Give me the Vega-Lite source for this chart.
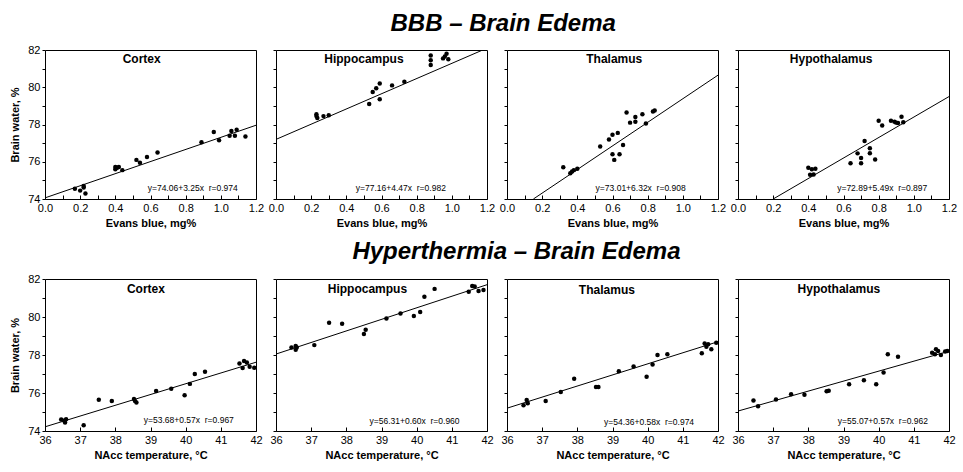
{
  "$schema": "https://vega.github.io/schema/vega-lite/v6.json",
  "padding": {"left": 9, "top": 11, "right": 5, "bottom": 5},
  "background": "white",
  "config": {
    "font": "Liberation Sans",
    "view": {"stroke": "black", "strokeWidth": 1},
    "axis": {"grid": false, "domain": false, "tickColor": "black", "tickSize": 3, "tickCount": 40, "labelColor": "black", "titleColor": "black", "labelFont": "Liberation Sans", "titleFont": "Liberation Sans", "labelFontSize": 11, "titleFontSize": 11, "titleFontWeight": "bold", "labelPadding": 2, "labelOverlap": false, "labelFlush": false},
    "axisY": {"titlePadding": 7},
    "axisX": {"titlePadding": 4, "tickSize": -4, "labelPadding": 7}
  },
  "datasets": {
    "pts": [
      {"e":"BBB","r":"Cortex","x":0.17,"y":74.55},{"e":"BBB","r":"Cortex","x":0.20,"y":74.45},{"e":"BBB","r":"Cortex","x":0.22,"y":74.62},{"e":"BBB","r":"Cortex","x":0.22,"y":74.7},{"e":"BBB","r":"Cortex","x":0.23,"y":74.3},{"e":"BBB","r":"Cortex","x":0.40,"y":75.72},{"e":"BBB","r":"Cortex","x":0.40,"y":75.6},{"e":"BBB","r":"Cortex","x":0.41,"y":75.68},{"e":"BBB","r":"Cortex","x":0.42,"y":75.72},{"e":"BBB","r":"Cortex","x":0.44,"y":75.55},{"e":"BBB","r":"Cortex","x":0.52,"y":76.1},{"e":"BBB","r":"Cortex","x":0.54,"y":75.95},{"e":"BBB","r":"Cortex","x":0.58,"y":76.25},{"e":"BBB","r":"Cortex","x":0.64,"y":76.5},{"e":"BBB","r":"Cortex","x":0.89,"y":77.05},{"e":"BBB","r":"Cortex","x":0.96,"y":77.6},{"e":"BBB","r":"Cortex","x":0.99,"y":77.15},{"e":"BBB","r":"Cortex","x":1.05,"y":77.4},{"e":"BBB","r":"Cortex","x":1.06,"y":77.65},{"e":"BBB","r":"Cortex","x":1.08,"y":77.4},{"e":"BBB","r":"Cortex","x":1.09,"y":77.72},{"e":"BBB","r":"Cortex","x":1.14,"y":77.35},
      {"e":"BBB","r":"Hippocampus","x":0.23,"y":78.45},{"e":"BBB","r":"Hippocampus","x":0.23,"y":78.55},{"e":"BBB","r":"Hippocampus","x":0.235,"y":78.35},{"e":"BBB","r":"Hippocampus","x":0.27,"y":78.45},{"e":"BBB","r":"Hippocampus","x":0.30,"y":78.5},{"e":"BBB","r":"Hippocampus","x":0.53,"y":79.1},{"e":"BBB","r":"Hippocampus","x":0.55,"y":79.75},{"e":"BBB","r":"Hippocampus","x":0.57,"y":79.95},{"e":"BBB","r":"Hippocampus","x":0.59,"y":80.2},{"e":"BBB","r":"Hippocampus","x":0.59,"y":79.35},{"e":"BBB","r":"Hippocampus","x":0.66,"y":80.1},{"e":"BBB","r":"Hippocampus","x":0.73,"y":80.3},{"e":"BBB","r":"Hippocampus","x":0.88,"y":81.2},{"e":"BBB","r":"Hippocampus","x":0.88,"y":81.45},{"e":"BBB","r":"Hippocampus","x":0.88,"y":81.7},{"e":"BBB","r":"Hippocampus","x":0.95,"y":81.55},{"e":"BBB","r":"Hippocampus","x":0.96,"y":81.65},{"e":"BBB","r":"Hippocampus","x":0.97,"y":81.8},{"e":"BBB","r":"Hippocampus","x":0.98,"y":81.5},
      {"e":"BBB","r":"Thalamus","x":0.32,"y":75.7},{"e":"BBB","r":"Thalamus","x":0.36,"y":75.38},{"e":"BBB","r":"Thalamus","x":0.37,"y":75.48},{"e":"BBB","r":"Thalamus","x":0.38,"y":75.55},{"e":"BBB","r":"Thalamus","x":0.40,"y":75.62},{"e":"BBB","r":"Thalamus","x":0.53,"y":76.82},{"e":"BBB","r":"Thalamus","x":0.58,"y":77.2},{"e":"BBB","r":"Thalamus","x":0.60,"y":77.45},{"e":"BBB","r":"Thalamus","x":0.60,"y":76.4},{"e":"BBB","r":"Thalamus","x":0.61,"y":76.1},{"e":"BBB","r":"Thalamus","x":0.63,"y":77.55},{"e":"BBB","r":"Thalamus","x":0.64,"y":76.4},{"e":"BBB","r":"Thalamus","x":0.66,"y":76.9},{"e":"BBB","r":"Thalamus","x":0.68,"y":78.65},{"e":"BBB","r":"Thalamus","x":0.70,"y":78.1},{"e":"BBB","r":"Thalamus","x":0.73,"y":78.4},{"e":"BBB","r":"Thalamus","x":0.73,"y":78.15},{"e":"BBB","r":"Thalamus","x":0.77,"y":78.55},{"e":"BBB","r":"Thalamus","x":0.79,"y":78.05},{"e":"BBB","r":"Thalamus","x":0.83,"y":78.7},{"e":"BBB","r":"Thalamus","x":0.84,"y":78.75},
      {"e":"BBB","r":"Hypothalamus","x":0.40,"y":75.68},{"e":"BBB","r":"Hypothalamus","x":0.41,"y":75.3},{"e":"BBB","r":"Hypothalamus","x":0.42,"y":75.6},{"e":"BBB","r":"Hypothalamus","x":0.43,"y":75.32},{"e":"BBB","r":"Hypothalamus","x":0.44,"y":75.62},{"e":"BBB","r":"Hypothalamus","x":0.64,"y":75.92},{"e":"BBB","r":"Hypothalamus","x":0.68,"y":76.45},{"e":"BBB","r":"Hypothalamus","x":0.70,"y":76.2},{"e":"BBB","r":"Hypothalamus","x":0.70,"y":75.92},{"e":"BBB","r":"Hypothalamus","x":0.72,"y":77.12},{"e":"BBB","r":"Hypothalamus","x":0.75,"y":76.72},{"e":"BBB","r":"Hypothalamus","x":0.75,"y":76.46},{"e":"BBB","r":"Hypothalamus","x":0.78,"y":76.12},{"e":"BBB","r":"Hypothalamus","x":0.80,"y":78.2},{"e":"BBB","r":"Hypothalamus","x":0.82,"y":77.95},{"e":"BBB","r":"Hypothalamus","x":0.87,"y":78.2},{"e":"BBB","r":"Hypothalamus","x":0.89,"y":78.15},{"e":"BBB","r":"Hypothalamus","x":0.90,"y":78.1},{"e":"BBB","r":"Hypothalamus","x":0.91,"y":78.08},{"e":"BBB","r":"Hypothalamus","x":0.93,"y":78.42},{"e":"BBB","r":"Hypothalamus","x":0.94,"y":78.12},
      {"e":"HT","r":"Cortex","x":36.46,"y":74.6},{"e":"HT","r":"Cortex","x":36.55,"y":74.55},{"e":"HT","r":"Cortex","x":36.57,"y":74.45},{"e":"HT","r":"Cortex","x":36.6,"y":74.62},{"e":"HT","r":"Cortex","x":37.1,"y":74.3},{"e":"HT","r":"Cortex","x":37.53,"y":75.65},{"e":"HT","r":"Cortex","x":37.9,"y":75.58},{"e":"HT","r":"Cortex","x":38.53,"y":75.68},{"e":"HT","r":"Cortex","x":38.56,"y":75.58},{"e":"HT","r":"Cortex","x":38.6,"y":75.5},{"e":"HT","r":"Cortex","x":39.16,"y":76.1},{"e":"HT","r":"Cortex","x":39.59,"y":76.22},{"e":"HT","r":"Cortex","x":39.97,"y":75.88},{"e":"HT","r":"Cortex","x":40.12,"y":76.48},{"e":"HT","r":"Cortex","x":40.26,"y":77.0},{"e":"HT","r":"Cortex","x":40.55,"y":77.12},{"e":"HT","r":"Cortex","x":41.53,"y":77.55},{"e":"HT","r":"Cortex","x":41.62,"y":77.32},{"e":"HT","r":"Cortex","x":41.66,"y":77.68},{"e":"HT","r":"Cortex","x":41.74,"y":77.6},{"e":"HT","r":"Cortex","x":41.82,"y":77.38},{"e":"HT","r":"Cortex","x":41.95,"y":77.33},
      {"e":"HT","r":"Hippocampus","x":36.44,"y":78.4},{"e":"HT","r":"Hippocampus","x":36.56,"y":78.47},{"e":"HT","r":"Hippocampus","x":36.56,"y":78.27},{"e":"HT","r":"Hippocampus","x":36.59,"y":78.4},{"e":"HT","r":"Hippocampus","x":37.09,"y":78.52},{"e":"HT","r":"Hippocampus","x":37.51,"y":79.7},{"e":"HT","r":"Hippocampus","x":37.88,"y":79.65},{"e":"HT","r":"Hippocampus","x":38.5,"y":79.1},{"e":"HT","r":"Hippocampus","x":38.55,"y":79.33},{"e":"HT","r":"Hippocampus","x":39.14,"y":79.92},{"e":"HT","r":"Hippocampus","x":39.54,"y":80.18},{"e":"HT","r":"Hippocampus","x":39.92,"y":80.05},{"e":"HT","r":"Hippocampus","x":40.1,"y":80.26},{"e":"HT","r":"Hippocampus","x":40.22,"y":81.07},{"e":"HT","r":"Hippocampus","x":40.51,"y":81.48},{"e":"HT","r":"Hippocampus","x":41.48,"y":81.33},{"e":"HT","r":"Hippocampus","x":41.58,"y":81.63},{"e":"HT","r":"Hippocampus","x":41.65,"y":81.6},{"e":"HT","r":"Hippocampus","x":41.76,"y":81.37},{"e":"HT","r":"Hippocampus","x":41.9,"y":81.42},
      {"e":"HT","r":"Thalamus","x":36.47,"y":75.35},{"e":"HT","r":"Thalamus","x":36.56,"y":75.63},{"e":"HT","r":"Thalamus","x":36.59,"y":75.46},{"e":"HT","r":"Thalamus","x":37.1,"y":75.58},{"e":"HT","r":"Thalamus","x":37.53,"y":76.05},{"e":"HT","r":"Thalamus","x":37.91,"y":76.75},{"e":"HT","r":"Thalamus","x":38.53,"y":76.32},{"e":"HT","r":"Thalamus","x":38.6,"y":76.32},{"e":"HT","r":"Thalamus","x":39.18,"y":77.14},{"e":"HT","r":"Thalamus","x":39.6,"y":77.39},{"e":"HT","r":"Thalamus","x":39.97,"y":76.86},{"e":"HT","r":"Thalamus","x":40.14,"y":77.5},{"e":"HT","r":"Thalamus","x":40.28,"y":78.0},{"e":"HT","r":"Thalamus","x":40.56,"y":78.04},{"e":"HT","r":"Thalamus","x":41.54,"y":78.09},{"e":"HT","r":"Thalamus","x":41.62,"y":78.6},{"e":"HT","r":"Thalamus","x":41.67,"y":78.44},{"e":"HT","r":"Thalamus","x":41.72,"y":78.56},{"e":"HT","r":"Thalamus","x":41.81,"y":78.3},{"e":"HT","r":"Thalamus","x":41.95,"y":78.65},
      {"e":"HT","r":"Hypothalamus","x":36.44,"y":75.6},{"e":"HT","r":"Hypothalamus","x":36.57,"y":75.3},{"e":"HT","r":"Hypothalamus","x":37.08,"y":75.66},{"e":"HT","r":"Hypothalamus","x":37.51,"y":75.93},{"e":"HT","r":"Hypothalamus","x":37.89,"y":75.91},{"e":"HT","r":"Hypothalamus","x":38.52,"y":76.09},{"e":"HT","r":"Hypothalamus","x":38.58,"y":76.12},{"e":"HT","r":"Hypothalamus","x":39.16,"y":76.46},{"e":"HT","r":"Hypothalamus","x":39.58,"y":76.67},{"e":"HT","r":"Hypothalamus","x":39.93,"y":76.46},{"e":"HT","r":"Hypothalamus","x":40.14,"y":77.08},{"e":"HT","r":"Hypothalamus","x":40.26,"y":78.04},{"e":"HT","r":"Hypothalamus","x":40.55,"y":77.91},{"e":"HT","r":"Hypothalamus","x":41.52,"y":78.12},{"e":"HT","r":"Hypothalamus","x":41.6,"y":78.04},{"e":"HT","r":"Hypothalamus","x":41.63,"y":78.3},{"e":"HT","r":"Hypothalamus","x":41.69,"y":78.21},{"e":"HT","r":"Hypothalamus","x":41.77,"y":78.0},{"e":"HT","r":"Hypothalamus","x":41.89,"y":78.18},{"e":"HT","r":"Hypothalamus","x":41.95,"y":78.21}
    ],
    "fit": [
      {"e":"BBB","r":"Cortex","x":0,"y":74.06},{"e":"BBB","r":"Cortex","x":1.2,"y":77.96},
      {"e":"BBB","r":"Hippocampus","x":0,"y":77.2},{"e":"BBB","r":"Hippocampus","x":1.2,"y":82.1},
      {"e":"BBB","r":"Thalamus","x":0.15,"y":74},{"e":"BBB","r":"Thalamus","x":1.2,"y":80.65},
      {"e":"BBB","r":"Hypothalamus","x":0.2,"y":74},{"e":"BBB","r":"Hypothalamus","x":1.2,"y":79.5},
      {"e":"HT","r":"Cortex","x":36,"y":74.22},{"e":"HT","r":"Cortex","x":42,"y":77.62},
      {"e":"HT","r":"Hippocampus","x":36,"y":78.05},{"e":"HT","r":"Hippocampus","x":42,"y":81.7},
      {"e":"HT","r":"Thalamus","x":36,"y":75.2},{"e":"HT","r":"Thalamus","x":42,"y":78.7},
      {"e":"HT","r":"Hypothalamus","x":36,"y":75.05},{"e":"HT","r":"Hypothalamus","x":42,"y":78.2}
    ],
    "lab": [
      {"e":"BBB","r":"Cortex","eq":"y=74.06+3.25x\u00a0\u00a0r=0.974"},
      {"e":"BBB","r":"Hippocampus","eq":"y=77.16+4.47x\u00a0\u00a0r=0.982"},
      {"e":"BBB","r":"Thalamus","eq":"y=73.01+6.32x\u00a0\u00a0r=0.908"},
      {"e":"BBB","r":"Hypothalamus","eq":"y=72.89+5.49x\u00a0\u00a0r=0.897"},
      {"e":"HT","r":"Cortex","eq":"y=53.68+0.57x\u00a0\u00a0r=0.967"},
      {"e":"HT","r":"Hippocampus","eq":"y=56.31+0.60x\u00a0\u00a0r=0.960"},
      {"e":"HT","r":"Thalamus","eq":"y=54.36+0.58x\u00a0\u00a0r=0.974"},
      {"e":"HT","r":"Hypothalamus","eq":"y=55.07+0.57x\u00a0\u00a0r=0.962"}
    ]
  },
  "vconcat": [
    {
      "title": {"text": "BBB – Brain Edema", "anchor": "middle", "fontSize": 24, "fontStyle": "italic", "fontWeight": "bold", "font": "Liberation Sans", "color": "black", "offset": 8, "dx": 20},
      "spacing": 20,
      "bounds": "flush",
      "hconcat": [
        {"width": 211, "height": 149, "layer": [
          {"data": {"name": "fit"}, "transform": [{"filter": "datum.e=='BBB' && datum.r=='Cortex'"}], "mark": {"type": "line", "color": "black", "strokeWidth": 1, "clip": true},
           "encoding": {"x": {"field": "x", "type": "quantitative", "scale": {"domain": [0, 1.2], "nice": false, "zero": false}, "axis": {"values": [0, 0.1, 0.2, 0.3, 0.4, 0.5, 0.6, 0.7, 0.8, 0.9, 1, 1.1, 1.2], "tickCount": 40, "labelExpr": "round(datum.value * 10) % 2 == 0 ? format(datum.value, '.1f') : ''", "labelOverlap": false, "title": "Evans blue, mg%"}},
                        "y": {"field": "y", "type": "quantitative", "scale": {"domain": [74, 82], "nice": false, "zero": false}, "axis": {"values": [74, 75, 76, 77, 78, 79, 80, 81, 82], "tickCount": 40, "labelOverlap": false, "labelExpr": "datum.value % 2 == 0 ? format(datum.value, 'd') : ''", "title": "Brain water, %"}}}},
          {"data": {"name": "pts"}, "transform": [{"filter": "datum.e=='BBB' && datum.r=='Cortex'"}], "mark": {"type": "circle", "color": "black", "size": 20, "opacity": 1}, "encoding": {"x": {"field": "x", "type": "quantitative"}, "y": {"field": "y", "type": "quantitative"}}},
          {"data": {"name": "lab"}, "transform": [{"filter": "datum.e=='BBB' && datum.r=='Cortex'"}], "mark": {"type": "text", "fontSize": 12, "fontWeight": "bold", "color": "black"}, "encoding": {"x": {"datum": 0.55}, "y": {"datum": 81.5}, "text": {"field": "r"}}},
          {"data": {"name": "lab"}, "transform": [{"filter": "datum.e=='BBB' && datum.r=='Cortex'"}], "mark": {"type": "text", "fontSize": 8.5, "color": "black"}, "encoding": {"x": {"datum": 0.84}, "y": {"datum": 74.6}, "text": {"field": "eq"}}}
        ]},
        {"width": 211, "height": 149, "layer": [
          {"data": {"name": "fit"}, "transform": [{"filter": "datum.e=='BBB' && datum.r=='Hippocampus'"}], "mark": {"type": "line", "color": "black", "strokeWidth": 1, "clip": true},
           "encoding": {"x": {"field": "x", "type": "quantitative", "scale": {"domain": [0, 1.2], "nice": false, "zero": false}, "axis": {"values": [0, 0.1, 0.2, 0.3, 0.4, 0.5, 0.6, 0.7, 0.8, 0.9, 1, 1.1, 1.2], "tickCount": 40, "labelExpr": "round(datum.value * 10) % 2 == 0 ? format(datum.value, '.1f') : ''", "labelOverlap": false, "title": "Evans blue, mg%"}},
                        "y": {"field": "y", "type": "quantitative", "scale": {"domain": [74, 82], "nice": false, "zero": false}, "axis": {"values": [74, 75, 76, 77, 78, 79, 80, 81, 82], "tickCount": 40, "labels": false, "title": null}}}},
          {"data": {"name": "pts"}, "transform": [{"filter": "datum.e=='BBB' && datum.r=='Hippocampus'"}], "mark": {"type": "circle", "color": "black", "size": 20, "opacity": 1}, "encoding": {"x": {"field": "x", "type": "quantitative"}, "y": {"field": "y", "type": "quantitative"}}},
          {"data": {"name": "lab"}, "transform": [{"filter": "datum.e=='BBB' && datum.r=='Hippocampus'"}], "mark": {"type": "text", "fontSize": 12, "fontWeight": "bold", "color": "black"}, "encoding": {"x": {"datum": 0.5}, "y": {"datum": 81.5}, "text": {"field": "r"}}},
          {"data": {"name": "lab"}, "transform": [{"filter": "datum.e=='BBB' && datum.r=='Hippocampus'"}], "mark": {"type": "text", "fontSize": 8.5, "color": "black"}, "encoding": {"x": {"datum": 0.71}, "y": {"datum": 74.6}, "text": {"field": "eq"}}}
        ]},
        {"width": 211, "height": 149, "layer": [
          {"data": {"name": "fit"}, "transform": [{"filter": "datum.e=='BBB' && datum.r=='Thalamus'"}], "mark": {"type": "line", "color": "black", "strokeWidth": 1, "clip": true},
           "encoding": {"x": {"field": "x", "type": "quantitative", "scale": {"domain": [0, 1.2], "nice": false, "zero": false}, "axis": {"values": [0, 0.1, 0.2, 0.3, 0.4, 0.5, 0.6, 0.7, 0.8, 0.9, 1, 1.1, 1.2], "tickCount": 40, "labelExpr": "round(datum.value * 10) % 2 == 0 ? format(datum.value, '.1f') : ''", "labelOverlap": false, "title": "Evans blue, mg%"}},
                        "y": {"field": "y", "type": "quantitative", "scale": {"domain": [74, 82], "nice": false, "zero": false}, "axis": {"values": [74, 75, 76, 77, 78, 79, 80, 81, 82], "tickCount": 40, "labels": false, "title": null}}}},
          {"data": {"name": "pts"}, "transform": [{"filter": "datum.e=='BBB' && datum.r=='Thalamus'"}], "mark": {"type": "circle", "color": "black", "size": 20, "opacity": 1}, "encoding": {"x": {"field": "x", "type": "quantitative"}, "y": {"field": "y", "type": "quantitative"}}},
          {"data": {"name": "lab"}, "transform": [{"filter": "datum.e=='BBB' && datum.r=='Thalamus'"}], "mark": {"type": "text", "fontSize": 12, "fontWeight": "bold", "color": "black"}, "encoding": {"x": {"datum": 0.61}, "y": {"datum": 81.5}, "text": {"field": "r"}}},
          {"data": {"name": "lab"}, "transform": [{"filter": "datum.e=='BBB' && datum.r=='Thalamus'"}], "mark": {"type": "text", "fontSize": 8.5, "color": "black"}, "encoding": {"x": {"datum": 0.76}, "y": {"datum": 74.6}, "text": {"field": "eq"}}}
        ]},
        {"width": 211, "height": 149, "layer": [
          {"data": {"name": "fit"}, "transform": [{"filter": "datum.e=='BBB' && datum.r=='Hypothalamus'"}], "mark": {"type": "line", "color": "black", "strokeWidth": 1, "clip": true},
           "encoding": {"x": {"field": "x", "type": "quantitative", "scale": {"domain": [0, 1.2], "nice": false, "zero": false}, "axis": {"values": [0, 0.1, 0.2, 0.3, 0.4, 0.5, 0.6, 0.7, 0.8, 0.9, 1, 1.1, 1.2], "tickCount": 40, "labelExpr": "round(datum.value * 10) % 2 == 0 ? format(datum.value, '.1f') : ''", "labelOverlap": false, "title": "Evans blue, mg%"}},
                        "y": {"field": "y", "type": "quantitative", "scale": {"domain": [74, 82], "nice": false, "zero": false}, "axis": {"values": [74, 75, 76, 77, 78, 79, 80, 81, 82], "tickCount": 40, "labels": false, "title": null}}}},
          {"data": {"name": "pts"}, "transform": [{"filter": "datum.e=='BBB' && datum.r=='Hypothalamus'"}], "mark": {"type": "circle", "color": "black", "size": 20, "opacity": 1}, "encoding": {"x": {"field": "x", "type": "quantitative"}, "y": {"field": "y", "type": "quantitative"}}},
          {"data": {"name": "lab"}, "transform": [{"filter": "datum.e=='BBB' && datum.r=='Hypothalamus'"}], "mark": {"type": "text", "fontSize": 12, "fontWeight": "bold", "color": "black"}, "encoding": {"x": {"datum": 0.53}, "y": {"datum": 81.5}, "text": {"field": "r"}}},
          {"data": {"name": "lab"}, "transform": [{"filter": "datum.e=='BBB' && datum.r=='Hypothalamus'"}], "mark": {"type": "text", "fontSize": 8.5, "color": "black"}, "encoding": {"x": {"datum": 0.82}, "y": {"datum": 74.6}, "text": {"field": "eq"}}}
        ]}
      ]
    },
    {
      "title": {"text": "Hyperthermia – Brain Edema", "anchor": "middle", "fontSize": 24, "fontStyle": "italic", "fontWeight": "bold", "font": "Liberation Sans", "color": "black", "offset": 9, "dx": 34},
      "spacing": 20,
      "bounds": "flush",
      "hconcat": [
        {"width": 211, "height": 152, "layer": [
          {"data": {"name": "fit"}, "transform": [{"filter": "datum.e=='HT' && datum.r=='Cortex'"}], "mark": {"type": "line", "color": "black", "strokeWidth": 1, "clip": true},
           "encoding": {"x": {"field": "x", "type": "quantitative", "scale": {"domain": [36, 42], "nice": false, "zero": false}, "axis": {"values": [36, 37, 38, 39, 40, 41, 42], "tickCount": 40, "format": "d", "labelOverlap": false, "title": "NAcc temperature, °C"}},
                        "y": {"field": "y", "type": "quantitative", "scale": {"domain": [74, 82], "nice": false, "zero": false}, "axis": {"values": [74, 75, 76, 77, 78, 79, 80, 81, 82], "tickCount": 40, "labelOverlap": false, "labelExpr": "datum.value % 2 == 0 ? format(datum.value, 'd') : ''", "title": "Brain water, %"}}}},
          {"data": {"name": "pts"}, "transform": [{"filter": "datum.e=='HT' && datum.r=='Cortex'"}], "mark": {"type": "circle", "color": "black", "size": 20, "opacity": 1}, "encoding": {"x": {"field": "x", "type": "quantitative"}, "y": {"field": "y", "type": "quantitative"}}},
          {"data": {"name": "lab"}, "transform": [{"filter": "datum.e=='HT' && datum.r=='Cortex'"}], "mark": {"type": "text", "fontSize": 12, "fontWeight": "bold", "color": "black"}, "encoding": {"x": {"datum": 38.87}, "y": {"datum": 81.5}, "text": {"field": "r"}}},
          {"data": {"name": "lab"}, "transform": [{"filter": "datum.e=='HT' && datum.r=='Cortex'"}], "mark": {"type": "text", "fontSize": 8.5, "color": "black"}, "encoding": {"x": {"datum": 40.09}, "y": {"datum": 74.6}, "text": {"field": "eq"}}}
        ]},
        {"width": 211, "height": 152, "layer": [
          {"data": {"name": "fit"}, "transform": [{"filter": "datum.e=='HT' && datum.r=='Hippocampus'"}], "mark": {"type": "line", "color": "black", "strokeWidth": 1, "clip": true},
           "encoding": {"x": {"field": "x", "type": "quantitative", "scale": {"domain": [36, 42], "nice": false, "zero": false}, "axis": {"values": [36, 37, 38, 39, 40, 41, 42], "tickCount": 40, "format": "d", "labelOverlap": false, "title": "NAcc temperature, °C"}},
                        "y": {"field": "y", "type": "quantitative", "scale": {"domain": [74, 82], "nice": false, "zero": false}, "axis": {"values": [74, 75, 76, 77, 78, 79, 80, 81, 82], "tickCount": 40, "labels": false, "title": null}}}},
          {"data": {"name": "pts"}, "transform": [{"filter": "datum.e=='HT' && datum.r=='Hippocampus'"}], "mark": {"type": "circle", "color": "black", "size": 20, "opacity": 1}, "encoding": {"x": {"field": "x", "type": "quantitative"}, "y": {"field": "y", "type": "quantitative"}}},
          {"data": {"name": "lab"}, "transform": [{"filter": "datum.e=='HT' && datum.r=='Hippocampus'"}], "mark": {"type": "text", "fontSize": 12, "fontWeight": "bold", "color": "black"}, "encoding": {"x": {"datum": 38.6}, "y": {"datum": 81.45}, "text": {"field": "r"}}},
          {"data": {"name": "lab"}, "transform": [{"filter": "datum.e=='HT' && datum.r=='Hippocampus'"}], "mark": {"type": "text", "fontSize": 8.5, "color": "black"}, "encoding": {"x": {"datum": 39.94}, "y": {"datum": 74.55}, "text": {"field": "eq"}}}
        ]},
        {"width": 211, "height": 152, "layer": [
          {"data": {"name": "fit"}, "transform": [{"filter": "datum.e=='HT' && datum.r=='Thalamus'"}], "mark": {"type": "line", "color": "black", "strokeWidth": 1, "clip": true},
           "encoding": {"x": {"field": "x", "type": "quantitative", "scale": {"domain": [36, 42], "nice": false, "zero": false}, "axis": {"values": [36, 37, 38, 39, 40, 41, 42], "tickCount": 40, "format": "d", "labelOverlap": false, "title": "NAcc temperature, °C"}},
                        "y": {"field": "y", "type": "quantitative", "scale": {"domain": [74, 82], "nice": false, "zero": false}, "axis": {"values": [74, 75, 76, 77, 78, 79, 80, 81, 82], "tickCount": 40, "labels": false, "title": null}}}},
          {"data": {"name": "pts"}, "transform": [{"filter": "datum.e=='HT' && datum.r=='Thalamus'"}], "mark": {"type": "circle", "color": "black", "size": 20, "opacity": 1}, "encoding": {"x": {"field": "x", "type": "quantitative"}, "y": {"field": "y", "type": "quantitative"}}},
          {"data": {"name": "lab"}, "transform": [{"filter": "datum.e=='HT' && datum.r=='Thalamus'"}], "mark": {"type": "text", "fontSize": 12, "fontWeight": "bold", "color": "black"}, "encoding": {"x": {"datum": 38.84}, "y": {"datum": 81.4}, "text": {"field": "r"}}},
          {"data": {"name": "lab"}, "transform": [{"filter": "datum.e=='HT' && datum.r=='Thalamus'"}], "mark": {"type": "text", "fontSize": 8.5, "color": "black"}, "encoding": {"x": {"datum": 40.04}, "y": {"datum": 74.5}, "text": {"field": "eq"}}}
        ]},
        {"width": 211, "height": 152, "layer": [
          {"data": {"name": "fit"}, "transform": [{"filter": "datum.e=='HT' && datum.r=='Hypothalamus'"}], "mark": {"type": "line", "color": "black", "strokeWidth": 1, "clip": true},
           "encoding": {"x": {"field": "x", "type": "quantitative", "scale": {"domain": [36, 42], "nice": false, "zero": false}, "axis": {"values": [36, 37, 38, 39, 40, 41, 42], "tickCount": 40, "format": "d", "labelOverlap": false, "title": "NAcc temperature, °C"}},
                        "y": {"field": "y", "type": "quantitative", "scale": {"domain": [74, 82], "nice": false, "zero": false}, "axis": {"values": [74, 75, 76, 77, 78, 79, 80, 81, 82], "tickCount": 40, "labels": false, "title": null}}}},
          {"data": {"name": "pts"}, "transform": [{"filter": "datum.e=='HT' && datum.r=='Hypothalamus'"}], "mark": {"type": "circle", "color": "black", "size": 20, "opacity": 1}, "encoding": {"x": {"field": "x", "type": "quantitative"}, "y": {"field": "y", "type": "quantitative"}}},
          {"data": {"name": "lab"}, "transform": [{"filter": "datum.e=='HT' && datum.r=='Hypothalamus'"}], "mark": {"type": "text", "fontSize": 12, "fontWeight": "bold", "color": "black"}, "encoding": {"x": {"datum": 38.87}, "y": {"datum": 81.5}, "text": {"field": "r"}}},
          {"data": {"name": "lab"}, "transform": [{"filter": "datum.e=='HT' && datum.r=='Hypothalamus'"}], "mark": {"type": "text", "fontSize": 8.5, "color": "black"}, "encoding": {"x": {"datum": 40.12}, "y": {"datum": 74.55}, "text": {"field": "eq"}}}
        ]}
      ]
    }
  ],
  "spacing": 10
}
